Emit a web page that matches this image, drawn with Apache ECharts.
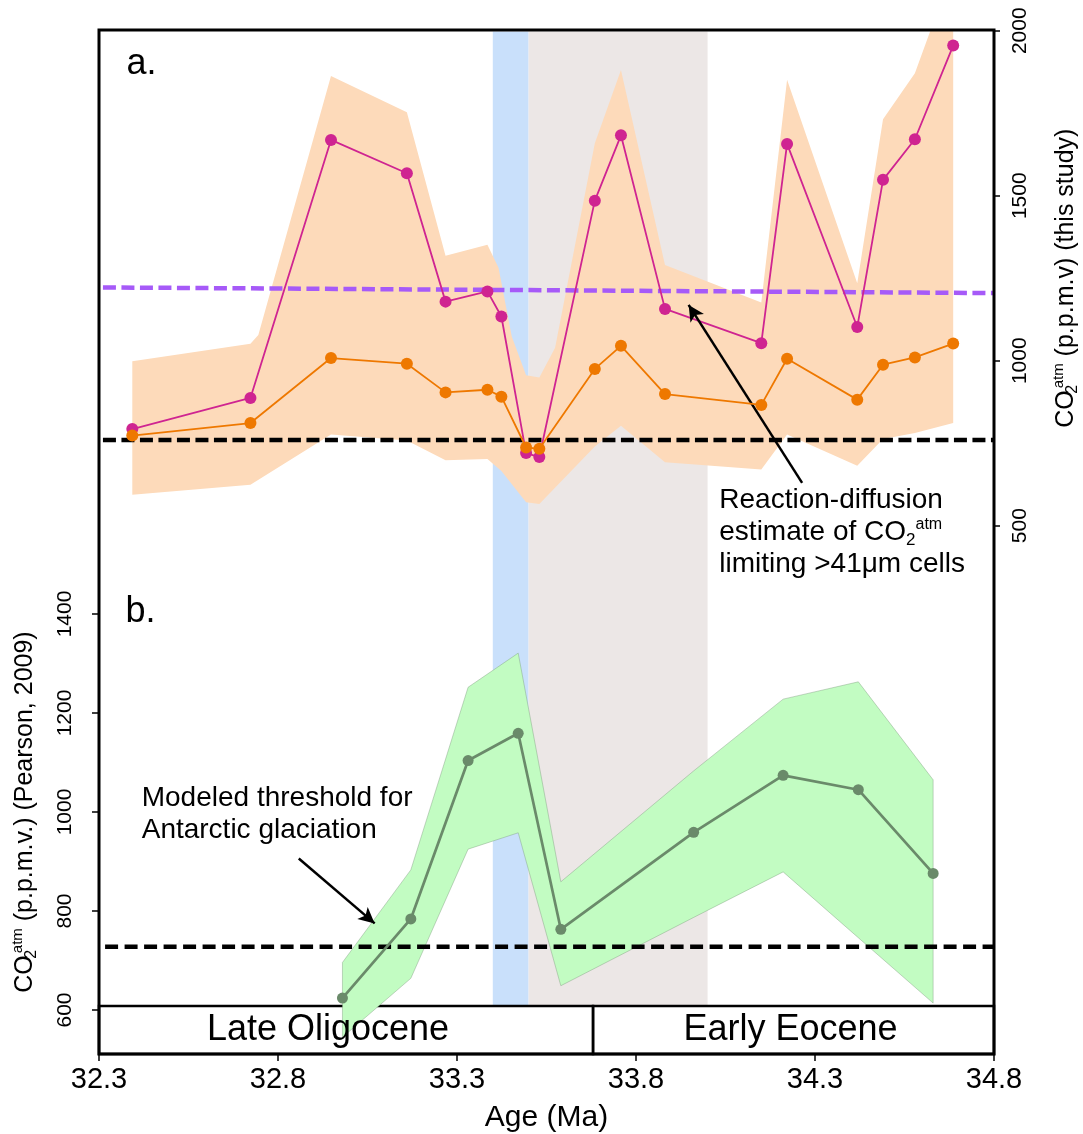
<!DOCTYPE html>
<html><head><meta charset="utf-8">
<script src="https://cdn.jsdelivr.net/npm/echarts@6/dist/echarts.min.js"></script>
<style>html,body{margin:0;padding:0;background:#fff}#c{width:1083px;height:1134px}</style>
</head><body><div id="c"></div>
<script>
// ---------- DATA ----------
// x axis (Age, Ma)
const xMin = 32.3, xMax = 34.8, xStep = 0.5;
// panel a: CO2atm (this study)
const ageTop = [32.393,32.723,32.948,33.160,33.268,33.385,33.424,33.493,33.530,33.685,33.758,33.881,34.150,34.222,34.418,34.490,34.579,34.686];
const co2Magenta = [793,887,1669,1568,1179,1210,1134,720,708,1485,1683,1157,1053,1657,1102,1548,1671,1955];
const co2Orange = [773,811,1008,991,904,912,891,737,733,975,1045,899,866,1006,882,988,1010,1052];
const bandUpperAge = [32.393,32.723,32.745,32.948,33.160,33.268,33.385,33.416,33.453,33.493,33.530,33.574,33.685,33.758,33.881,34.150,34.222,34.418,34.490,34.579,34.686];
const bandUpperVal = [998,1051,1078,1863,1753,1318,1351,1282,1073,956,949,1039,1659,1881,1290,1176,1851,1235,1732,1871,2190];
const bandLowerAge = [32.393,32.723,32.948,33.160,33.268,33.385,33.424,33.493,33.530,33.685,33.758,33.881,34.150,34.222,34.418,34.490,34.579,34.686];
const bandLowerVal = [594,624,776,758,698,702,666,571,566,740,803,692,670,776,682,763,781,811];
// panel b: CO2atm (Pearson, 2009)
const agePearson = [32.980,33.171,33.331,33.471,33.590,33.961,34.211,34.421,34.630];
const co2Pearson = [624,784,1104,1159,763,959,1074,1045,876];
const pearsonUpper = [696,883,1252,1321,859,1083,1228,1263,1065];
const pearsonLower = [545,664,925,958,649,787,879,746,614];
// reference lines
const thresholdAges = [32.311, 34.8];
const reactionDiffusionLimit = [760, 760];
const purpleLine = [1222, 1205];
const glaciationAges = [32.317, 34.8];
const glaciationThreshold = [728, 728];
// annotation arrows [tail, tip]
const arrowTop = [[34.264, 630], [33.947, 1169]];
const arrowBottom = [[32.858, 906], [33.070, 775]];
// shaded intervals and epochs
const blueInterval = [33.40, 33.50];
const grayInterval = [33.50, 34.00];
const epochNames = ['Late Oligocene', 'Early Eocene'];
const epochBounds = [32.3, 33.68, 34.8];
// axis ranges
const topAxis = [500, 2000, 500];
const bottomAxis = [600, 1400, 200];

// ---------- STYLE ----------
const FONT = '"Liberation Sans", Arial, Helvetica, sans-serif';
const MAG = '#CF2491', ORA = '#EE7800', PEACH = '#FDDABA', PURPLE = '#A65AF8';
const BLUE = '#C9E0FB', GRAY = '#ECE7E6', GFILL = '#C2FCC2', GLINE = '#6A8A6A';
const epochLabelOffsets = [[-18, 0], [-3, 0]];

function band(ageU, valU, ageL, valL, xi, yi, fill, stroke, clip, z) {
  return {
    type: 'custom', xAxisIndex: xi, yAxisIndex: yi, clip: clip, silent: true, z: z,
    data: ageU.map((a, i) => [a, valU[i]]), encode: {x: 0, y: 1},
    renderItem(params, api) {
      if (params.dataIndex !== 0) return null;
      const pts = [];
      ageU.forEach((a, i) => pts.push(api.coord([a, valU[i]])));
      for (let i = ageL.length - 1; i >= 0; i--) pts.push(api.coord([ageL[i], valL[i]]));
      return {type: 'polygon', shape: {points: pts},
        style: {fill: fill, stroke: stroke || null, lineWidth: stroke ? 0.8 : 0}};
    }
  };
}
const pairs = (xs, ys) => xs.map((x, i) => [x, ys[i]]);
const hiddenX = g => ({type: 'value', gridIndex: g, min: xMin, max: xMax, show: false});
const hiddenY = g => ({type: 'value', gridIndex: g, min: 0, max: 1, show: false});
const nameRich = {
  m: {fontSize: 25, lineHeight: 30, fontFamily: FONT, color: '#000'},
  sub: {fontSize: 16, lineHeight: 13.6, verticalAlign: 'bottom', width: 2, fontFamily: FONT, color: '#000'},
  sup: {fontSize: 15, lineHeight: 21, verticalAlign: 'top', fontFamily: FONT, color: '#000'}
};

const option = {
  animation: false,
  backgroundColor: '#fff',
  textStyle: {fontFamily: FONT, color: '#000'},
  grid: [
    {left: 99, right: 89, top: 30, bottom: 80, show: true, borderColor: '#000', borderWidth: 3, backgroundColor: 'transparent', z: 20, outerBoundsMode: 'none'},
    {left: 99, right: 89, top: 30.7, height: 495, outerBoundsMode: 'none'},
    {left: 99, right: 89, top: 614, height: 396, outerBoundsMode: 'none'},
    {left: 99, right: 89, top: 31.5, height: 974.5, outerBoundsMode: 'none'},
    {left: 99, right: 89, top: 1006, height: 48, outerBoundsMode: 'none'}
  ],
  xAxis: [
    hiddenX(0), hiddenX(1), hiddenX(2), hiddenX(3),
    {type: 'value', gridIndex: 4, min: xMin, max: xMax, interval: xStep, position: 'bottom',
      axisLine: {show: false}, splitLine: {show: false},
      axisTick: {show: true, length: 7, lineStyle: {color: '#000', width: 1.5}},
      axisLabel: {show: true, fontSize: 29, color: '#000', margin: 11, fontFamily: FONT,
        showMinLabel: true, showMaxLabel: true, formatter: v => v.toFixed(1)},
      name: 'Age (Ma)', nameLocation: 'middle', nameGap: 49,
      nameTextStyle: {fontSize: 30, color: '#000', fontFamily: FONT}}
  ],
  yAxis: [
    hiddenY(0),
    {type: 'value', gridIndex: 1, position: 'right', min: topAxis[0], max: topAxis[1], interval: topAxis[2],
      axisLine: {show: false}, splitLine: {show: false},
      axisTick: {show: true, length: 6, lineStyle: {color: '#000', width: 1.5}},
      axisLabel: {rotate: 90, fontSize: 21, color: '#000', margin: 16, fontFamily: FONT, showMinLabel: true, showMaxLabel: true,
        formatter: v => String(v)},
      name: '{m|CO}{sub|2}{sup|atm}{m| (p.p.m.v) (this study)}', nameLocation: 'middle', nameRotate: 90, nameGap: 57,
      nameTextStyle: {rich: nameRich, fontSize: 25, fontFamily: FONT, color: '#000'}},
    {type: 'value', gridIndex: 2, position: 'left', min: bottomAxis[0], max: bottomAxis[1], interval: bottomAxis[2],
      axisLine: {show: false}, splitLine: {show: false},
      axisTick: {show: true, length: 7, lineStyle: {color: '#000', width: 1.5}},
      axisLabel: {rotate: 90, fontSize: 21, color: '#000', margin: 23, fontFamily: FONT, showMinLabel: true, showMaxLabel: true,
        formatter: v => String(v)},
      name: '{m|CO}{sub|2}{sup|atm}{m| (p.p.m.v.) (Pearson, 2009)}', nameLocation: 'middle', nameRotate: 90, nameGap: 59,
      nameTextStyle: {rich: nameRich, fontSize: 25, fontFamily: FONT, color: '#000'}},
    hiddenY(3), hiddenY(4)
  ],
  series: [
    // shaded intervals
    {type: 'line', xAxisIndex: 3, yAxisIndex: 3, data: [], z: 0, silent: true,
      markArea: {silent: true, label: {show: false},
        data: [
          [{xAxis: blueInterval[0], itemStyle: {color: BLUE, opacity: 1}}, {xAxis: blueInterval[1]}],
          [{xAxis: grayInterval[0], itemStyle: {color: GRAY, opacity: 1}}, {xAxis: grayInterval[1]}]
        ]}},
    // panel a
    band(bandUpperAge, bandUpperVal, bandLowerAge, bandLowerVal, 1, 1, PEACH, null, true, 1),
    {type: 'line', xAxisIndex: 1, yAxisIndex: 1, data: pairs(thresholdAges, purpleLine), symbol: 'none', silent: true, z: 3,
      lineStyle: {color: PURPLE, width: 4.5, type: [13, 5.5]}},
    {type: 'line', xAxisIndex: 1, yAxisIndex: 1, data: pairs(thresholdAges, reactionDiffusionLimit), symbol: 'none', silent: true, z: 3,
      lineStyle: {color: '#000', width: 4.5, type: [13, 5.5]}},
    {type: 'line', xAxisIndex: 1, yAxisIndex: 1, data: pairs(ageTop, co2Magenta), symbol: 'circle', symbolSize: 12, silent: true, z: 4,
      lineStyle: {color: MAG, width: 1.8}, itemStyle: {color: MAG}},
    {type: 'line', xAxisIndex: 1, yAxisIndex: 1, data: pairs(ageTop, co2Orange), symbol: 'circle', symbolSize: 12, silent: true, z: 5,
      lineStyle: {color: ORA, width: 1.8}, itemStyle: {color: ORA}},
    {type: 'line', xAxisIndex: 1, yAxisIndex: 1, data: [], z: 6, silent: true,
      markLine: {silent: true, symbol: ['none', 'arrow'], symbolSize: [12, 16], label: {show: false},
        lineStyle: {color: '#000', width: 2.5, type: 'solid'}, data: [[{coord: arrowTop[0]}, {coord: arrowTop[1]}]]}},
    // panel b
    band(agePearson, pearsonUpper, agePearson, pearsonLower, 2, 2, GFILL, 'rgba(120,150,120,0.5)', false, 1),
    {type: 'line', xAxisIndex: 2, yAxisIndex: 2, data: pairs(glaciationAges, glaciationThreshold), symbol: 'none', silent: true, z: 3,
      lineStyle: {color: '#000', width: 4.5, type: [13, 6.5]}},
    {type: 'line', xAxisIndex: 2, yAxisIndex: 2, data: pairs(agePearson, co2Pearson), symbol: 'circle', symbolSize: 11, silent: true, z: 4, clip: false,
      lineStyle: {color: GLINE, width: 2.7}, itemStyle: {color: GLINE}},
    {type: 'line', xAxisIndex: 2, yAxisIndex: 2, data: [], z: 6, silent: true,
      markLine: {silent: true, symbol: ['none', 'arrow'], symbolSize: [12, 16], label: {show: false},
        lineStyle: {color: '#000', width: 2.5, type: 'solid'}, data: [[{coord: arrowBottom[0]}, {coord: arrowBottom[1]}]]}},
    // epoch strip
    {type: 'line', xAxisIndex: 4, yAxisIndex: 4, data: [], z: 10, silent: true,
      markArea: {silent: true,
        label: {show: true, position: 'inside', fontSize: 36, color: '#000', fontFamily: FONT},
        itemStyle: {color: 'rgba(0,0,0,0)', borderColor: '#000', borderWidth: 2.5, opacity: 1},
        data: epochNames.map((n, i) => [{name: n, xAxis: epochBounds[i], label: {offset: epochLabelOffsets[i]}}, {xAxis: epochBounds[i + 1]}])}}
  ],
  graphic: [
    {type: 'text', x: 126.5, y: 64.5, z: 50, style: {text: 'a.', fontSize: 36, fontFamily: FONT, fill: '#000', align: 'left', verticalAlign: 'middle'}},
    {type: 'text', x: 125.5, y: 612.5, z: 50, style: {text: 'b.', fontSize: 36, fontFamily: FONT, fill: '#000', align: 'left', verticalAlign: 'middle'}},
    {type: 'text', x: 719.3, y: 484.2, z: 50, style: {
      text: 'Reaction-diffusion\nestimate of CO{sub|2}{sup|atm}\nlimiting >41\u03bcm cells',
      fontSize: 28, fontFamily: FONT, fill: '#000', lineHeight: 32.2, align: 'left', verticalAlign: 'top',
      rich: {sub: {fontSize: 17, lineHeight: 13, verticalAlign: 'bottom', fontFamily: FONT, fill: '#000'},
             sup: {fontSize: 16, lineHeight: 23.5, verticalAlign: 'top', fontFamily: FONT, fill: '#000'}}}},
    {type: 'text', x: 141.7, y: 782.3, z: 50, style: {
      text: 'Modeled threshold for\nAntarctic glaciation',
      fontSize: 28, fontFamily: FONT, fill: '#000', lineHeight: 32.3, align: 'left', verticalAlign: 'top'}}
  ]
};
const chart = echarts.init(document.getElementById('c'), null, {renderer: 'canvas', width: 1083, height: 1134});
chart.setOption(option);
</script>
</body></html>
